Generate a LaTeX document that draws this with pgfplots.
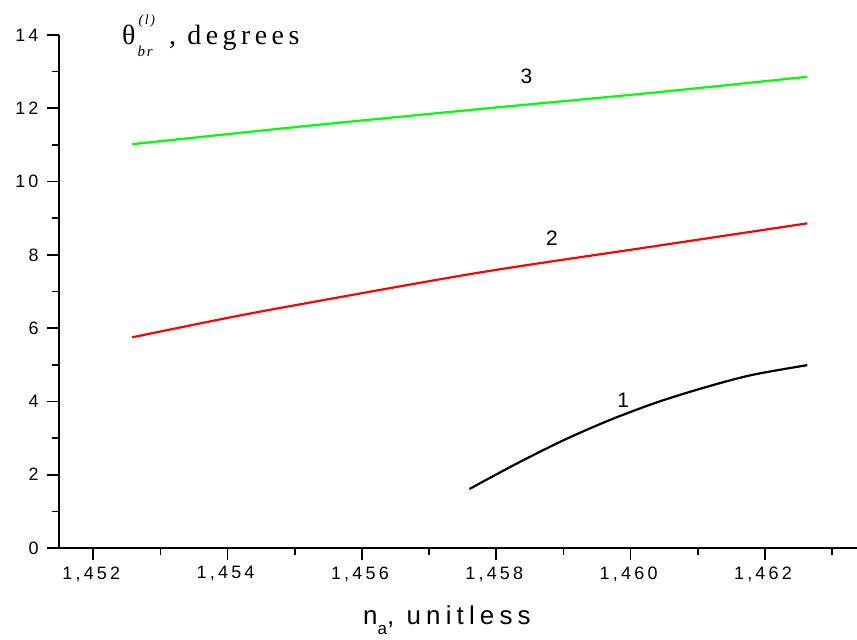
\documentclass[border=0pt]{standalone}
\usepackage{fontspec}
\setmainfont{Liberation Sans}
\newfontfamily\tickfont[LetterSpace=18]{Liberation Sans}
\newfontfamily\xlabfont[LetterSpace=20]{Liberation Sans}
\newfontfamily\ylabfont[LetterSpace=16]{Liberation Serif}
\newfontfamily\serifit[LetterSpace=12]{Liberation Serif}
\usepackage{pgfplots}
\pgfplotsset{compat=1.18}
\begin{document}
\begin{tikzpicture}
\path[use as bounding box] (0bp,0bp) rectangle (857bp,640bp);
\begin{axis}[
  at={(59bp,92bp)}, anchor=south west,
  scale only axis, width=798bp, height=513bp,
  xmin=1.45149, xmax=1.46337, ymin=0, ymax=14,
  axis x line*=bottom, axis y line*=left,
  axis line style={-, line width=1.8bp, black},
  every outer x axis line/.append style={-},
  every outer y axis line/.append style={-},
  tick align=outside,
  major tick length=12bp, minor tick length=7bp,
  every tick/.style={line width=1.6bp, black},
  xtick={1.452,1.454,1.456,1.458,1.460,1.462},
  xticklabels={{1,452},{1,454},{1,456},{1,458},{1,460},{1,462}},
  minor xtick={1.453,1.455,1.457,1.459,1.461,1.463},
  ytick={0,2,4,6,8,10,12,14},
  yticklabels={0,2,4,6,8,10,12,14},
  minor ytick={1,3,5,7,9,11,13},
  ticklabel style={font=\tickfont\fontsize{18}{20}\selectfont},
  xticklabel style={xshift=-2bp, yshift=-3bp},
  yticklabel style={xshift=-5bp},
  clip=false,
]
\addplot[green!100, line width=2.2bp, smooth] coordinates {
 (1.45258,11.02) (1.45508,11.50) (1.45776,11.98) (1.46030,12.42) (1.46263,12.86)
};
\addplot[red, line width=2.2bp, smooth] coordinates {
 (1.45258,5.75) (1.45400,6.28) (1.45508,6.65) (1.45776,7.52) (1.46030,8.22) (1.46263,8.86)
};
\addplot[black, line width=2.2bp, smooth] coordinates {
 (1.45760,1.61) (1.45830,2.30) (1.45900,2.94) (1.45970,3.50) (1.46040,3.98) (1.46110,4.38) (1.46180,4.72) (1.46263,4.99)
};
\node[font=\fontsize{21}{22}\selectfont] at (axis cs:1.45845,12.88) {3};
\node[font=\fontsize{21}{22}\selectfont] at (axis cs:1.45883,8.45) {2};
\node[font=\fontsize{21}{22}\selectfont] at (axis cs:1.45989,4.04) {1};
\end{axis}
\node[anchor=base west, inner sep=0pt] at (122bp,595bp) {\ylabfont\fontsize{28}{30}\selectfont θ\rlap{\hspace{3bp}\raisebox{20bp}{\serifit\itshape\fontsize{14}{14}\selectfont (l)}}\hspace{2bp}\raisebox{-12bp}{\serifit\itshape\fontsize{15}{15}\selectfont br}\hspace{5bp} , degrees};
\node[anchor=base west, inner sep=0pt] at (363bp,16bp) {\xlabfont\fontsize{26}{28}\selectfont n\raisebox{-10bp}{\fontsize{17}{17}\selectfont a}, unitless};
\end{tikzpicture}
\end{document}
